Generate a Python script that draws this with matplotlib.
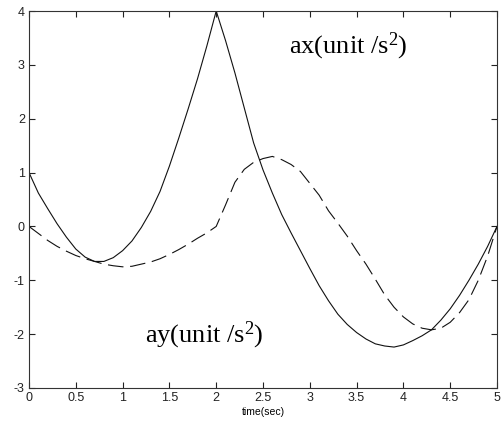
import matplotlib
matplotlib.use('Agg')
import matplotlib.pyplot as plt
import numpy as np

# time axis (sec), read every 0.1 s
t = [0.0, 0.1, 0.2, 0.3, 0.4, 0.5, 0.6, 0.7, 0.8, 0.9,
     1.0, 1.1, 1.2, 1.3, 1.4, 1.5, 1.6, 1.7, 1.8, 1.9,
     2.0, 2.1, 2.2, 2.3, 2.4, 2.5, 2.6, 2.7, 2.8, 2.9,
     3.0, 3.1, 3.2, 3.3, 3.4, 3.5, 3.6, 3.7, 3.8, 3.9,
     4.0, 4.1, 4.2, 4.3, 4.4, 4.5, 4.6, 4.7, 4.8, 4.9, 5.0]

# ax (solid)
ax_vals = [1.00, 0.62, 0.33, 0.05, -0.20, -0.42, -0.57, -0.65, -0.65, -0.58,
           -0.45, -0.27, -0.02, 0.28, 0.65, 1.12, 1.64, 2.18, 2.74, 3.35,
           4.00, 3.45, 2.85, 2.20, 1.55, 1.05, 0.62, 0.22, -0.12, -0.45,
           -0.78, -1.10, -1.38, -1.63, -1.82, -1.97, -2.09, -2.18, -2.22, -2.24,
           -2.20, -2.12, -2.03, -1.92, -1.74, -1.53, -1.28, -1.00, -0.70, -0.37, 0.00]

# ay (dashed)
ay_vals = [0.00, -0.13, -0.26, -0.37, -0.46, -0.54, -0.60, -0.65, -0.70, -0.73,
           -0.75, -0.74, -0.70, -0.66, -0.60, -0.52, -0.43, -0.33, -0.22, -0.12,
           0.00, 0.40, 0.82, 1.06, 1.19, 1.26, 1.30, 1.24, 1.15, 1.02,
           0.80, 0.58, 0.29, 0.06, -0.18, -0.45, -0.70, -0.98, -1.27, -1.50,
           -1.68, -1.81, -1.89, -1.92, -1.89, -1.78, -1.60, -1.36, -1.00, -0.55, 0.00]

xticks = [0, 0.5, 1, 1.5, 2, 2.5, 3, 3.5, 4, 4.5, 5]
xticklabels = ['0', '0.5', '1', '1.5', '2', '2.5', '3', '3.5', '4', '4.5', '5']
yticks = [-3, -2, -1, 0, 1, 2, 3, 4]

plt.rcParams['mathtext.fontset'] = 'custom'
plt.rcParams['mathtext.rm'] = 'Liberation Serif'
plt.rcParams['mathtext.it'] = 'Liberation Serif:italic'
plt.rcParams['axes.unicode_minus'] = False

fig = plt.figure(figsize=(5.03, 4.30), dpi=100)
ax = fig.add_axes([29/503, 42/430, 468/503, 377/430])

ax.plot(t, ax_vals, color='#111111', linewidth=0.8)
line, = ax.plot(t, ay_vals, color='#111111', linewidth=0.8)
line.set_dashes([14, 6])

ax.set_xlim(0, 5)
ax.set_ylim(-3, 4)
ax.set_xticks(xticks)
ax.set_xticklabels(xticklabels)
ax.set_yticks(yticks)
ax.tick_params(direction='in', length=4, width=0.8, top=True, right=True,
               labelsize=9, pad=3, colors='#222222')
for lab in ax.get_xticklabels() + ax.get_yticklabels():
    lab.set_fontfamily('Liberation Sans')
for s in ax.spines.values():
    s.set_color('#333333')
    s.set_linewidth(0.8)

ax.set_xlabel('time(sec)', fontsize=7.5, fontfamily='Liberation Sans', labelpad=2)

ax.text(3.41, 3.22, r'ax(unit /s$^2$)', fontsize=19, fontfamily='Liberation Serif',
        ha='center', va='baseline')
ax.text(1.24, -2.16, r'ay(unit /s$^2$)', fontsize=19, fontfamily='Liberation Serif',
        ha='left', va='baseline')

fig.savefig('out.png', dpi=100)
